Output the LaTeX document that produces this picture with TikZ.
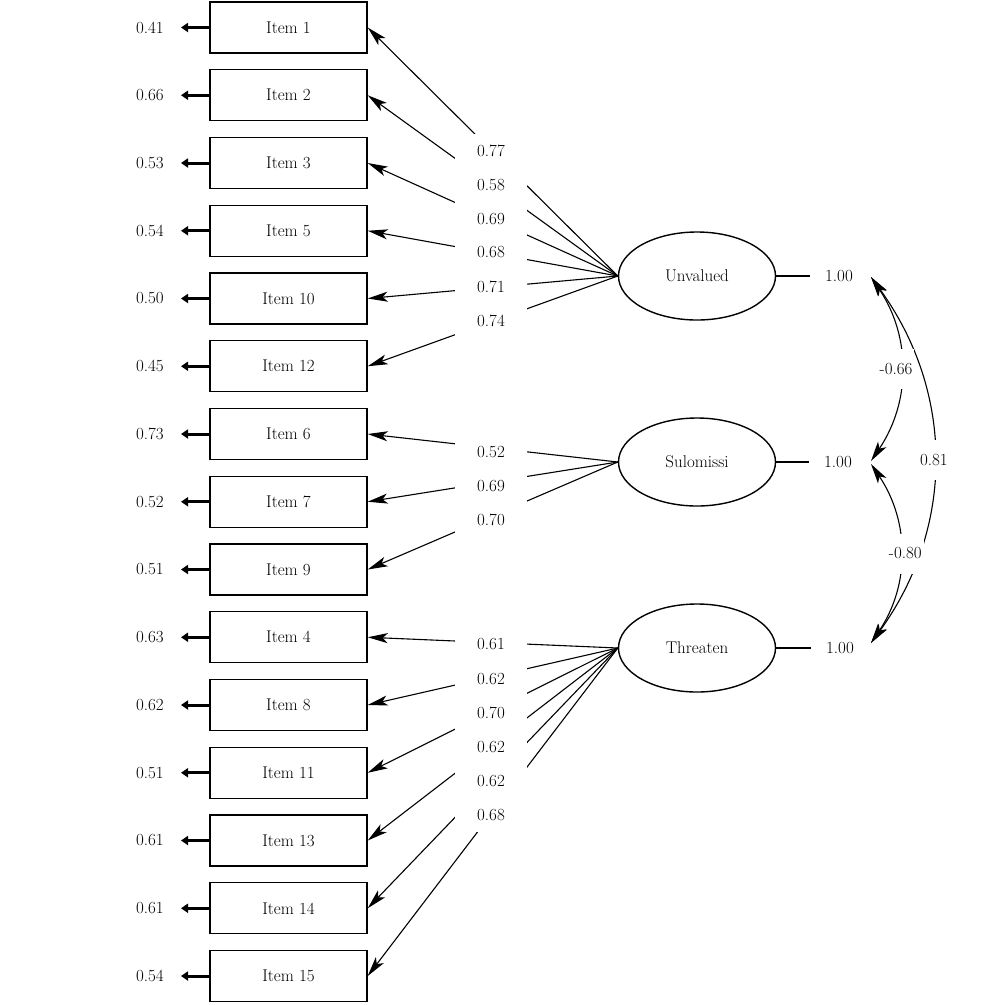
\documentclass[tikz,border=0pt]{standalone}
\usepackage{fontspec}
\usetikzlibrary{arrows.meta,shapes.geometric}
\begin{document}
\begin{tikzpicture}[x=1pt,y=-1pt,
  font=\fontsize{17}{20}\selectfont,
  item/.style={draw, line width=1.4pt, minimum width=157pt, minimum height=51pt, inner sep=0pt},
  factor/.style={draw, ellipse, line width=1.4pt, minimum width=157pt, minimum height=88pt, inner sep=0pt},
  errlbl/.style={anchor=east, inner xsep=17pt, inner ysep=0pt},
  errarr/.style={line width=3pt, -{Triangle[length=7pt,width=9pt]}},
  load/.style={line width=1.1pt, -{Stealth[length=20pt,width=10pt,inset=5pt]}},
  ldlbl/.style={fill=white, minimum width=72pt, minimum height=34pt, inner sep=0pt},
  varlbl/.style={inner xsep=15pt, inner ysep=0pt},
  varline/.style={line width=1.4pt},
  covarr/.style={line width=1.1pt, {Stealth[length=20pt,width=10pt,inset=5pt]}-{Stealth[length=20pt,width=10pt,inset=5pt]}},
  covlbl/.style={fill=white, inner xsep=2pt, inner ysep=0pt, minimum height=40pt}
]
\useasboundingbox (0,0) rectangle (1000,1005);
% observed items with error terms
\foreach \n/\k/\e in {1/0/0.41, 2/1/0.66, 3/2/0.53, 5/3/0.54, 10/4/0.50, 12/5/0.45, 6/6/0.73, 7/7/0.52, 9/8/0.51, 4/9/0.63, 8/10/0.62, 11/11/0.51, 13/12/0.61, 14/13/0.61, 15/14/0.54} {
  \node[item] (i\n) at (288.5, 27.5+67.75*\k) {Item \n};
  \node[errlbl] (e\n) at (181, 27.5+67.75*\k) {\e};
  \draw[errarr] (i\n.west) -- (e\n.east);
}
% latent factors
\node[factor] (U) at (697,276) {Unvalued};
\node[factor] (S) at (697,462) {Sulomissi};
\node[factor] (T) at (697,648) {Threaten};
% loadings
\foreach \f/\n in {U/1,U/2,U/3,U/5,U/10,U/12,S/6,S/7,S/9,T/4,T/8,T/11,T/13,T/14,T/15}
  \draw[load] (\f.west) -- (i\n.east);
\foreach \n/\y/\v in {1/151/0.77, 2/185/0.58, 3/219/0.69, 5/252/0.68, 10/287/0.71, 12/321/0.74,
                      6/452/0.52, 7/486/0.69, 9/520/0.70,
                      4/644/0.61, 8/679/0.62, 11/713/0.70, 13/747/0.62, 14/781/0.62, 15/815/0.68}
  \node[ldlbl] (l\n) at (491,\y) {\v};
% factor variances
\node[varlbl] (vU) at (839,276) {1.00};
\node[varlbl] (vS) at (838,462) {1.00};
\node[varlbl] (vT) at (840,648) {1.00};
\draw[varline] (U.east) -- (vU.west);
\draw[varline] (S.east) -- (vS.west);
\draw[varline] (T.east) -- (vT.west);
% covariances
\coordinate (ca) at (871,277);
\coordinate (cb) at (871,461);
\coordinate (cb2) at (871,464);
\coordinate (cc) at (871,643);
\draw[covarr] (ca) to[bend left=36] node[covlbl] (c13) {0.81} (cc);
\draw[covarr] (ca) to[bend left=34] node[covlbl, xshift=-5pt] (c12) {-0.66} (cb);
\draw[covarr] (cb2) to[bend left=34] node[covlbl, xshift=5pt] (c23) {-0.80} (cc);
\end{tikzpicture}
\end{document}
